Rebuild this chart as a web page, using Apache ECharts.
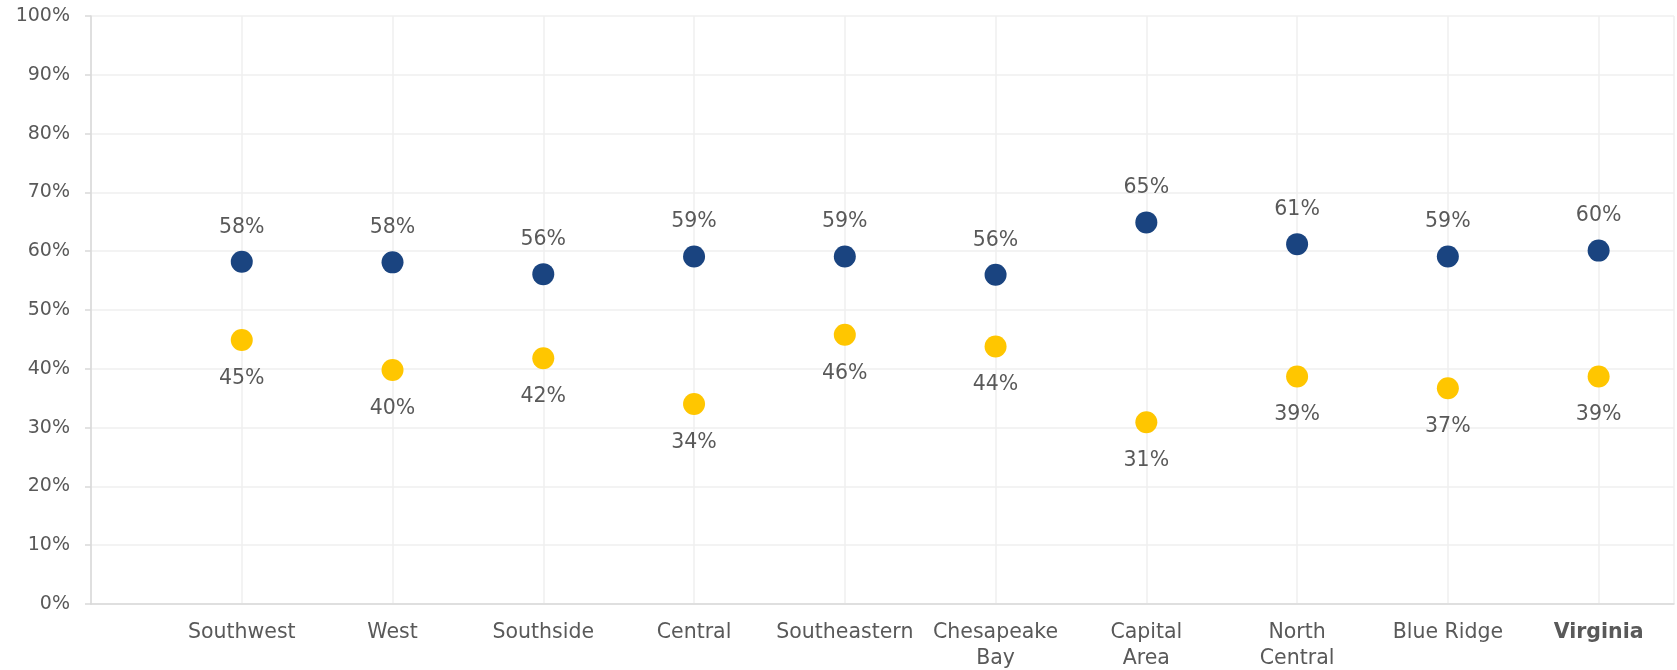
<!DOCTYPE html>
<html>
<head>
<meta charset="utf-8">
<script src="https://cdn.jsdelivr.net/npm/echarts@6/dist/echarts.min.js"></script>
<style>html,body{margin:0;padding:0;background:#fff;}#c{width:1677px;height:670px;}</style>
</head>
<body>
<div id="c"></div>
<script>
const categories = ['Southwest', 'West', 'Southside', 'Central', 'Southeastern', 'Chesapeake\nBay', 'Capital\nArea', 'North\nCentral', 'Blue Ridge', 'Virginia'];
const blueValues = [58.2, 58.1, 56.1, 59.1, 59.1, 56.0, 64.9, 61.2, 59.1, 60.1];
const yellowValues = [44.9, 39.8, 41.8, 34.0, 45.8, 43.8, 30.9, 38.7, 36.7, 38.7];
const yTicks = ['0%', '10%', '20%', '30%', '40%', '50%', '60%', '70%', '80%', '90%', '100%'];

const FONT = 'DejaVu Sans';
const TXT = '#595959';
const FS_AX = 19;
const FS_CAT = 20.5;
const FS_LBL = 20.5;

const toPoints = vals => vals.map((v, i) => [i + 1, v]);

const chart = echarts.init(document.getElementById('c'));
chart.setOption({
  animation: false,
  textStyle: { fontFamily: FONT },
  grid: { left: 91, right: 3, top: 16, bottom: 66, containLabel: false, outerBoundsMode: 'none' },
  xAxis: {
    type: 'value', min: 0, max: 10.5, interval: 1,
    axisLine: { show: true, onZero: false, lineStyle: { color: '#d9d9d9', width: 1.5 } },
    axisTick: { show: false },
    splitLine: { show: true, lineStyle: { color: '#efefef', width: 1.5 } },
    axisLabel: {
      margin: 16, color: TXT, fontSize: FS_CAT, fontFamily: FONT, lineHeight: 26,
      showMaxLabel: false,
      formatter: function (v) {
        const i = Math.round(v) - 1;
        if (i < 0 || i >= categories.length || Math.abs(v - Math.round(v)) > 1e-6) return '';
        if (i === categories.length - 1) return '{b|' + categories[i] + '}';
        return categories[i];
      },
      rich: { b: { fontWeight: 'bold', color: TXT, fontSize: FS_CAT, fontFamily: FONT, lineHeight: 26 } }
    }
  },
  yAxis: {
    type: 'value', min: 0, max: 100, interval: 10,
    axisLine: { show: true, lineStyle: { color: '#d9d9d9', width: 1.5 } },
    axisTick: { show: true, length: 6, lineStyle: { color: '#d9d9d9', width: 1.5 } },
    splitLine: { show: true, lineStyle: { color: '#efefef', width: 1.5 } },
    axisLabel: {
      margin: 21, color: TXT, fontSize: FS_AX, fontFamily: FONT,
      formatter: v => yTicks[Math.round(v / 10)]
    }
  },
  series: [
    {
      name: 'Blue', type: 'scatter', data: toPoints(blueValues),
      symbolSize: 22, itemStyle: { color: '#1a4480', opacity: 1 },
      label: { show: true, position: 'top', distance: 13, color: TXT, fontSize: FS_LBL, fontFamily: FONT,
        formatter: p => Math.round(p.value[1]) + '%' }
    },
    {
      name: 'Yellow', type: 'scatter', data: toPoints(yellowValues),
      symbolSize: 22, itemStyle: { color: '#ffc600', opacity: 1 },
      label: { show: true, position: 'bottom', distance: 17, color: TXT, fontSize: FS_LBL, fontFamily: FONT,
        formatter: p => Math.round(p.value[1]) + '%' }
    }
  ]
});
</script>
</body>
</html>
